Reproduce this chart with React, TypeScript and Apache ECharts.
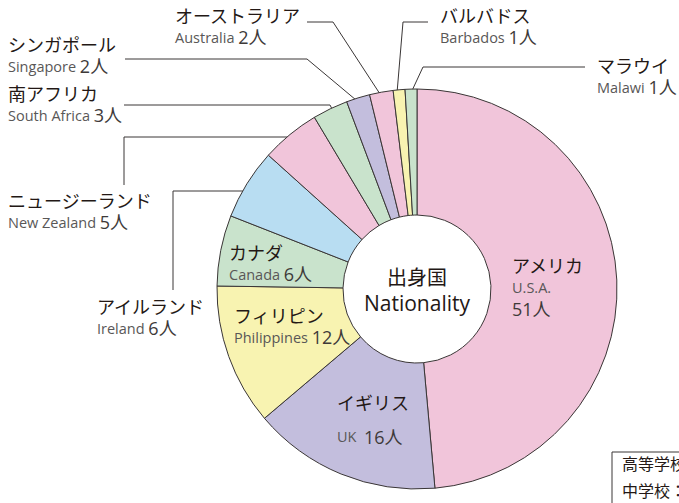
import React, { useEffect, useRef } from "react";
import * as echarts from "echarts";

const namesJa = ["アメリカ", "イギリス", "フィリピン", "カナダ", "アイルランド", "ニュージーランド", "南アフリカ", "シンガポール", "オーストラリア", "バルバドス", "マラウイ"];
const namesEn = ["U.S.A.", "UK", "Philippines", "Canada", "Ireland", "New Zealand", "South Africa", "Singapore", "Australia", "Barbados", "Malawi"];
const counts = [51, 16, 12, 6, 6, 5, 3, 2, 2, 1, 1];
const unit = "人";
const centerTitle = ["出身国", "Nationality"];
const noteLines = ["高等学校：", "中学校："];

const PINK = "#F1C5DA";
const LAV = "#C3BEDD";
const YEL = "#F8F3B1";
const GRN = "#C9E3CC";
const BLU = "#B8DDF2";
const sliceColors = [PINK, LAV, YEL, GRN, BLU, PINK, GRN, LAV, PINK, YEL, GRN];

// label block top-left positions (layout only)
const labelPos: [number, number][] = [
  [512, 253],
  [337, 390],
  [234, 303],
  [229, 240],
  [97, 294],
  [8, 188],
  [8, 81],
  [8, 32],
  [175, 3],
  [440, 3],
  [597, 53],
];
const linePts: ([number, number][] | null)[] = [
  null,
  null,
  null,
  null,
  [[250, 191], [173, 191], [173, 290]],
  [[293, 137], [124, 137], [124, 185]],
  [[333, 111], [330, 105], [124, 105]],
  [[356, 100], [307, 59], [125, 59]],
  [[380, 94], [333, 22], [307, 22]],
  [[397, 93], [403, 22], [428, 22]],
  [[410, 95], [423, 67], [585, 67]],
];

const FONT = "'Noto Sans CJK JP', 'Noto Sans', sans-serif";
const LATIN = "'Open Sans', 'Noto Sans CJK JP', sans-serif";

export default function App() {
  const ref = useRef<HTMLDivElement>(null);
  useEffect(() => {
    if (!ref.current) return;
    const chart = echarts.init(ref.current, null, { renderer: "svg" });
    const data = counts.map((v, i) => ({
      value: v,
      name: namesEn[i],
      itemStyle: { color: sliceColors[i] },
      labelLine: { show: linePts[i] !== null },
    }));
    chart.setOption({
      animation: false,
      backgroundColor: "#ffffff",
      textStyle: { fontFamily: FONT },
      series: [
        {
          type: "pie",
          center: [417, 289],
          radius: [74, 200],
          startAngle: 90,
          clockwise: true,
          avoidLabelOverlap: false,
          emphasis: { disabled: true },
          silent: true,
          itemStyle: { borderColor: "#3a3636", borderWidth: 1 },
          label: {
            show: true,
            position: "outside",
            fontFamily: FONT,
            formatter: (p: any) => {
              const i = p.dataIndex;
              if (i === 0) return `{jp|${namesJa[i]}}\n{en|${namesEn[i]}}\n{num|${counts[i]}${unit}}`;
              if (i === 1) return `{jp|${namesJa[i]}}\n{enB|${namesEn[i]}  }{numB|${counts[i]}${unit}}`;
              return `{jp|${namesJa[i]}}\n{en|${namesEn[i]} }{num|${counts[i]}${unit}}`;
            },
            rich: {
              jp: { fontSize: 18, color: "#231815", lineHeight: 23, fontFamily: FONT },
              en: { fontSize: 14.5, color: "#595757", lineHeight: 22, fontFamily: LATIN },
              num: { fontSize: 18, color: "#3e3a39", lineHeight: 22, fontFamily: LATIN },
              enB: { fontSize: 14.5, color: "#595757", lineHeight: 47, fontFamily: LATIN },
              numB: { fontSize: 18, color: "#3e3a39", lineHeight: 47, fontFamily: LATIN },
            },
          },
          labelLine: { lineStyle: { color: "#3a3636", width: 1 } },
          labelLayout: (params: any) => {
            const i = params.dataIndex;
            const res: any = { x: labelPos[i][0], y: labelPos[i][1], align: "left", verticalAlign: "top" };
            if (linePts[i]) res.labelLinePoints = linePts[i];
            return res;
          },
          data,
        },
      ],
      graphic: [
        {
          type: "text",
          x: 417,
          y: 276,
          style: { text: centerTitle[0], fontSize: 20, fill: "#231815", fontFamily: FONT, align: "center", verticalAlign: "middle" },
        },
        {
          type: "text",
          x: 417,
          y: 303,
          style: { text: centerTitle[1], fontSize: 21, fill: "#231815", fontFamily: LATIN, align: "center", verticalAlign: "middle" },
        },
        {
          type: "rect",
          shape: { x: 612, y: 452, width: 120, height: 80 },
          style: { fill: "#ffffff", stroke: "#3a3636", lineWidth: 1 },
        },
        {
          type: "text",
          x: 622,
          y: 463,
          style: { text: noteLines[0], fontSize: 16, fill: "#231815", fontFamily: FONT, verticalAlign: "middle" },
        },
        {
          type: "text",
          x: 622,
          y: 490,
          style: { text: noteLines[1], fontSize: 16, fill: "#231815", fontFamily: FONT, verticalAlign: "middle" },
        },
      ],
    });
    return () => chart.dispose();
  }, []);
  return <div ref={ref} style={{ position: "fixed", left: 0, top: 0, width: 679, height: 503 }} />;
}
